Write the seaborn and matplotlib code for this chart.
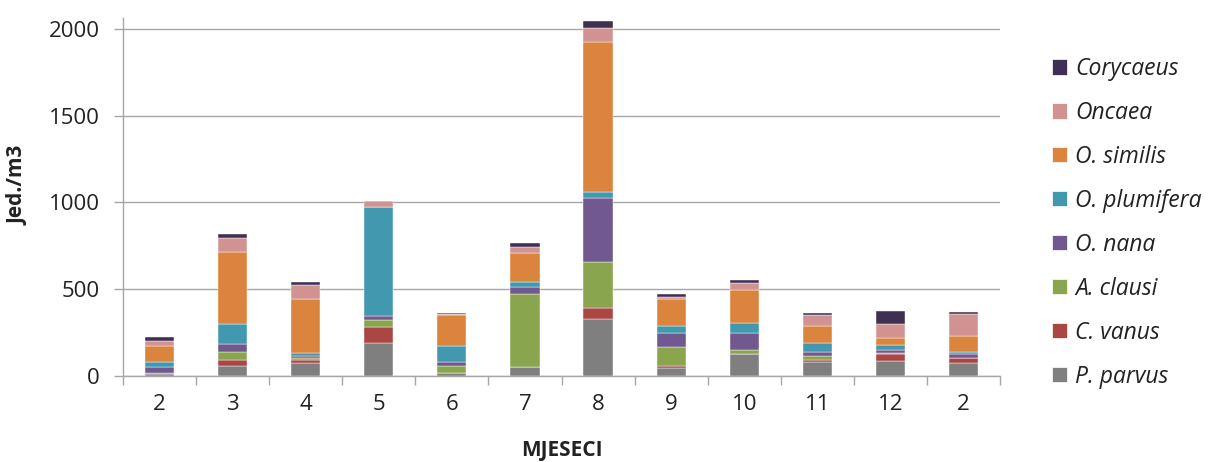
import pandas as pd
import matplotlib
matplotlib.use('Agg')
import matplotlib.pyplot as plt
import matplotlib.patches as mpatches
import seaborn as sns

# months on the x axis (last one is February of the next year)
months = ['2', '3', '4', '5', '6', '7', '8', '9', '10', '11', '12', '2']

# abundance per species, Jed./m3
p_parvus = [12, 57, 73, 191, 15, 53, 331, 48, 126, 80, 86, 73]
c_vanus = [8, 38, 21, 90, 0, 0, 60, 9, 3, 15, 38, 30]
a_clausi = [0, 43, 7, 42, 42, 417, 266, 111, 18, 20, 8, 3]
o_nana = [32, 45, 16, 23, 23, 44, 370, 80, 101, 23, 15, 20]
o_plumifera = [28, 119, 17, 626, 90, 25, 34, 39, 60, 53, 31, 12]
o_similis = [90, 410, 307, 3, 183, 168, 866, 154, 185, 96, 42, 91]
oncaea = [34, 81, 82, 33, 4, 36, 79, 17, 44, 64, 80, 130]
corycaeus = [23, 24, 16, 0, 5, 23, 38, 12, 15, 10, 76, 8]

# legend order (top of the stack first)
species = ['Corycaeus', 'Oncaea', 'O. similis', 'O. plumifera',
           'O. nana', 'A. clausi', 'C. vanus', 'P. parvus']
series = [corycaeus, oncaea, o_similis, o_plumifera,
          o_nana, a_clausi, c_vanus, p_parvus]
colors = ['#3F2F53', '#D19392', '#DB843D', '#4198AF',
          '#71588F', '#89A54E', '#AA4643', '#7F7F7F']

# long table for seaborn
rows = []
for name, vals in zip(species, series):
    for i, v in enumerate(vals):
        rows.append({'pos': i, 'species': name, 'value': v})
df = pd.DataFrame(rows)

sns.set_style('white')
plt.rcParams['font.family'] = ['Open Sans', 'DejaVu Sans']

fig = plt.figure(figsize=(12.1, 4.62), dpi=100)
ax = fig.add_axes([123 / 1210, 1 - 376 / 462, 877 / 1210, 358 / 462])

sns.histplot(data=df, x='pos', weights='value', hue='species',
             hue_order=species, palette=colors, multiple='stack',
             discrete=True, shrink=0.4, alpha=1, edgecolor='white',
             linewidth=0.3, legend=False, ax=ax)

grid_col = '#A6A6A6'
ax.set_xlim(-0.5, len(months) - 0.5)
ax.set_ylim(0, 2063)
ax.set_yticks([0, 500, 1000, 1500, 2000])
ax.yaxis.grid(True, color=grid_col, linewidth=1)
ax.set_axisbelow(True)
for s in ['top', 'right']:
    ax.spines[s].set_visible(False)
for s in ['left', 'bottom']:
    ax.spines[s].set_color(grid_col)
    ax.spines[s].set_linewidth(1)

ax.set_xticks(range(len(months)))
ax.set_xticklabels(months)
ax.set_xticks([i - 0.5 for i in range(len(months) + 1)], minor=True)
ax.tick_params(axis='x', which='major', length=0, pad=13, labelsize=16, labelcolor='#222222')
ax.tick_params(axis='x', which='minor', length=6.5, width=1, color=grid_col, direction='out', bottom=True)
ax.tick_params(axis='y', length=6.5, width=1, color=grid_col, direction='out', left=True,
               pad=10, labelsize=16, labelcolor='#222222')

ax.set_xlabel('MJESECI', fontsize=15, fontweight='bold', color='#222222')
ax.xaxis.set_label_coords(0.5, -0.18)
ax.set_ylabel('Jed./m3', fontsize=15, fontweight='bold', color='#222222')
ax.yaxis.set_label_coords(-0.108, 0.533)

handles = [mpatches.Patch(facecolor=c, edgecolor='white', linewidth=0.5) for c in colors]
leg = fig.legend(handles, species, loc='upper left', bbox_to_anchor=(1052 / 1210, 1 - 57 / 462),
                 frameon=False, fontsize=16.5, labelspacing=0.87, handlelength=0.65,
                 handleheight=0.65, handletextpad=0.35, borderpad=0, borderaxespad=0)
for t in leg.get_texts():
    t.set_fontstyle('italic')
    t.set_color('#222222')

fig.savefig('out.png', dpi=100)
